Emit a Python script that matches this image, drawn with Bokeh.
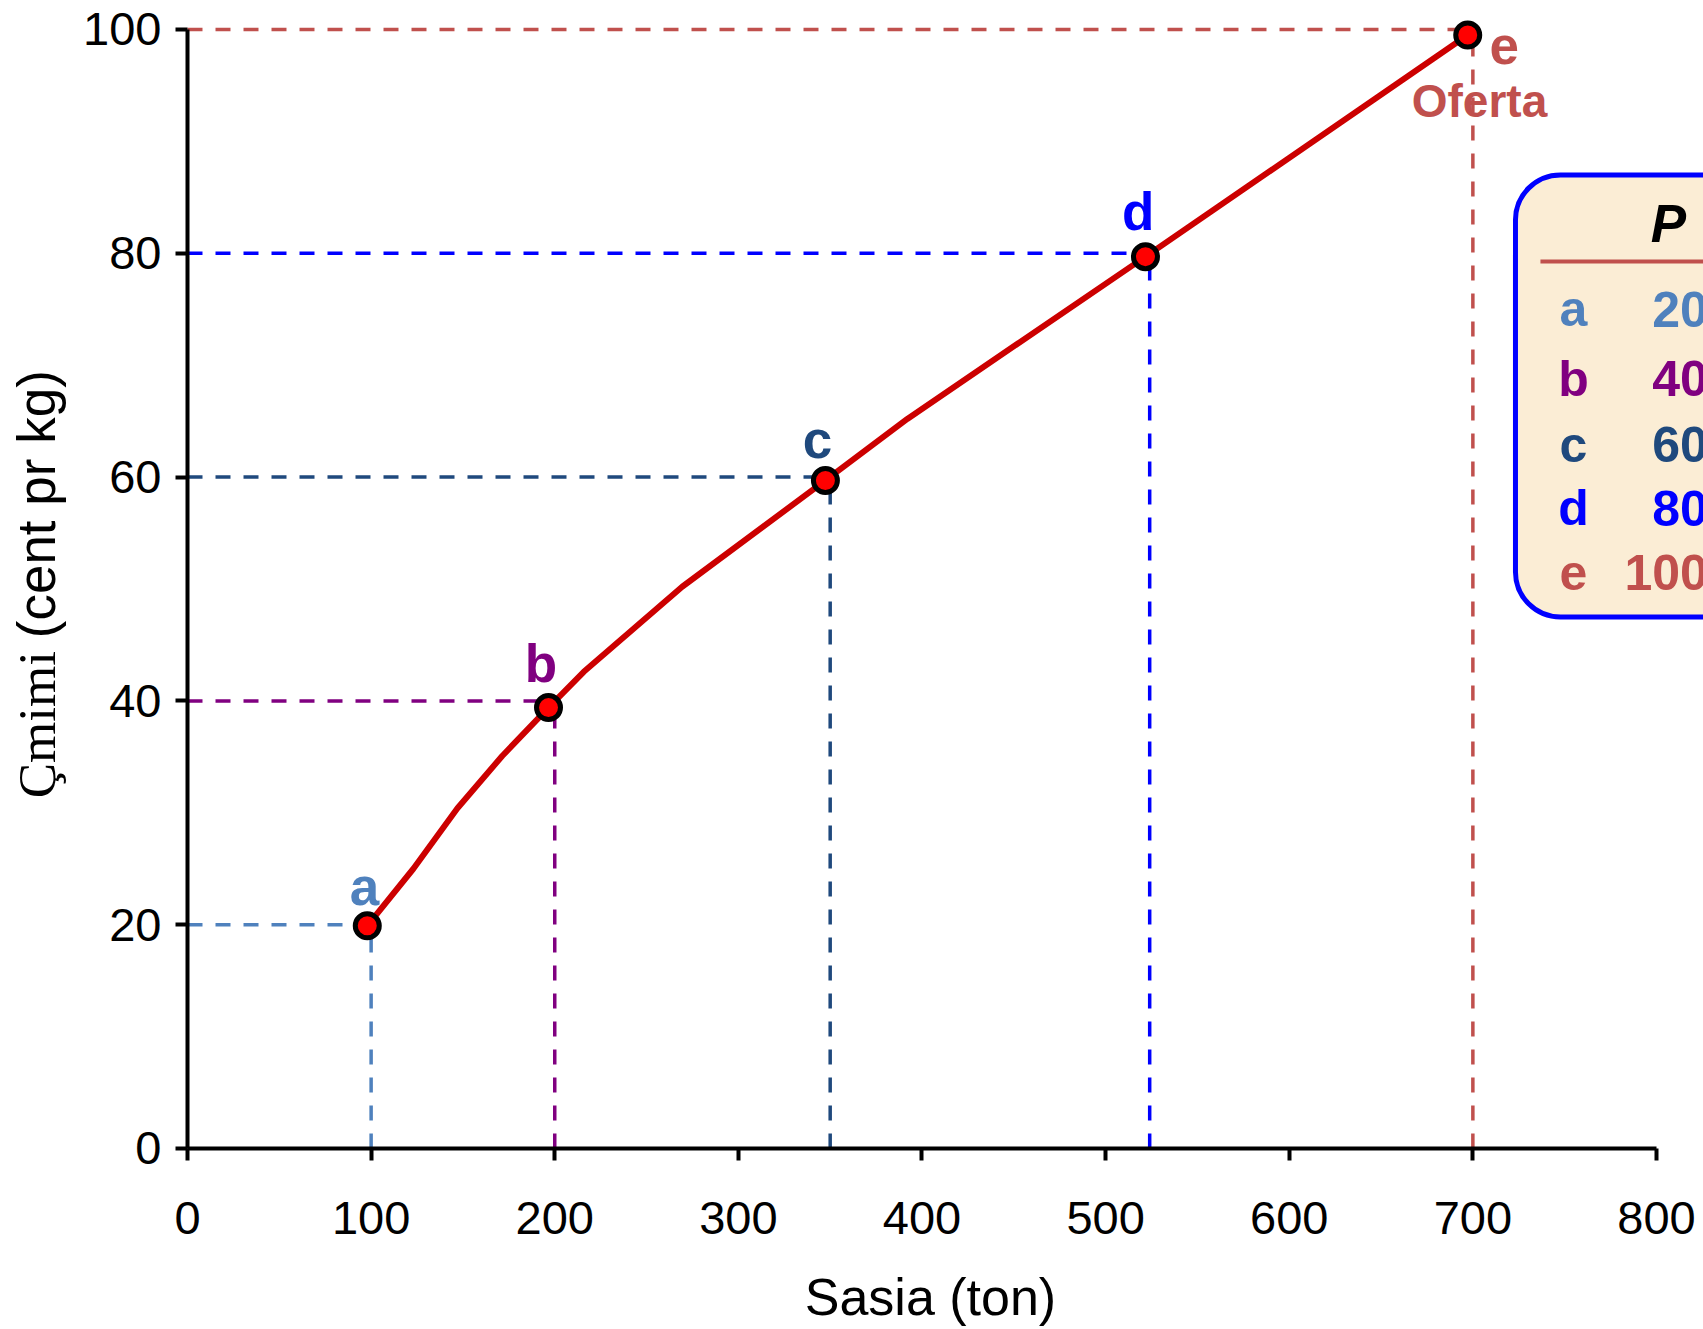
from bokeh.plotting import figure
from bokeh.models import Range1d, FixedTicker, BoxAnnotation, Label, ColumnDataSource
from bokeh.core.properties import value
from bokeh.embed import file_html
from bokeh.resources import INLINE

# ---------------- data ----------------
point_names = ["a", "b", "c", "d", "e"]
point_qty = [97.9, 196.6, 347.4, 521.7, 697.2]
point_price = [19.9, 39.4, 59.7, 79.7, 99.5]

curve_qty = [97.9, 123.0, 147.0, 171.5, 196.6, 215.8, 269.4, 347.4, 392.0, 521.7, 697.2]
curve_price = [19.9, 25.0, 30.4, 35.1, 39.4, 42.6, 50.2, 59.7, 65.2, 79.7, 99.5]

guide_qty = [100, 200, 350, 524, 700]
guide_price = [20, 40, 60, 80, 100]

point_colors = ["#4F81BD", "#800080", "#1F497D", "#0000FF", "#C0504D"]

table_header = "P"
table_values = ["20", "40", "60", "80", "100"]

x_ticks = [0, 100, 200, 300, 400, 500, 600, 700, 800]
y_ticks = [0, 20, 40, 60, 80, 100]

curve_name = "Oferta"
x_title = "Sasia (ton)"
y_title_serif = "Çmimi"
y_title_sans = "(cent pr kg)"

# ---------------- layout constants ----------------
label_qty = [96.4, 192.5, 343.1, 517.7, 717.1]
label_price = [23.4, 43.3, 63.4, 83.7, 98.55]
row_price = [75.0, 68.8, 62.9, 57.2, 51.5]

SANS = "Liberation Sans"

p = figure(width=1703, height=1329,
           x_range=Range1d(-101.84, 825.6), y_range=Range1d(-16.175, 102.59),
           output_backend="svg", toolbar_location=None,
           min_border_left=0, min_border_right=0,
           min_border_top=0, min_border_bottom=0)
p.outline_line_color = None
p.grid.visible = False
p.background_fill_color = "white"
p.border_fill_color = "white"

# axes (drawn at the data origin)
for ax in (p.xaxis[0], p.yaxis[0]):
    ax.fixed_location = 0
    ax.axis_line_width = 4
    ax.axis_line_color = "black"
    ax.major_tick_line_width = 4
    ax.major_tick_line_color = "black"
    ax.major_tick_out = 12
    ax.major_tick_in = 0
    ax.minor_tick_line_color = None
    ax.major_label_text_font = SANS
    ax.major_label_text_font_size = "47px"
    ax.major_label_text_color = "black"

p.xaxis.ticker = FixedTicker(ticks=x_ticks)
p.yaxis.ticker = FixedTicker(ticks=y_ticks)
p.xaxis.bounds = (0, 800)
p.yaxis.bounds = (0, 100)
p.xaxis.major_label_standoff = 42
p.yaxis.major_label_standoff = 14

# box behind the table
box = BoxAnnotation(left=723.2, right=880, top=87.0, bottom=47.5,
                    fill_color="#FBEDD5", fill_alpha=1.0,
                    line_color="#0000FF", line_alpha=1.0, line_width=5,
                    border_radius=45, level="underlay")
p.add_layout(box)

# guides
hsrc = ColumnDataSource(dict(x0=[0] * 5, y0=guide_price, x1=guide_qty, y1=guide_price, c=point_colors))
vsrc = ColumnDataSource(dict(x0=guide_qty, y0=[0] * 5, x1=guide_qty, y1=guide_price, c=point_colors))
p.segment(x0="x0", y0="y0", x1="x1", y1="y1", line_color="c", line_width=3.5, line_dash="15 13", source=hsrc)
p.segment(x0="x0", y0="y0", x1="x1", y1="y1", line_color="c", line_width=3.5, line_dash="15 13", source=vsrc)

# supply curve
p.line(curve_qty, curve_price, line_color="#CC0000", line_width=6)
p.scatter(point_qty, point_price, size=24, fill_color="#FF0000", line_color="black", line_width=5)

# point labels
lsrc = ColumnDataSource(dict(x=label_qty, y=label_price, t=point_names, c=point_colors))
p.text(x="x", y="y", text="t", text_color="c", source=lsrc,
       text_font=value(SANS), text_font_style="bold", text_font_size="53px",
       text_align="center", text_baseline="alphabetic")
p.text(x=[703.6], y=[93.6], text=[curve_name], text_color="#C0504D",
       text_font=value(SANS), text_font_style="bold", text_font_size="46px",
       text_align="center", text_baseline="alphabetic")

# table contents
p.text(x=[806.5], y=[82.7], text=[table_header], text_color="black",
       text_font=value(SANS), text_font_style="bold italic", text_font_size="53px",
       text_align="center", text_baseline="middle")
p.segment(x0=[736.8], y0=[79.27], x1=[880], y1=[79.27], line_color="#C0504D", line_width=4)
tsrc = ColumnDataSource(dict(xl=[754.8] * 5, xv=[828] * 5, y=row_price, t=point_names, v=table_values, c=point_colors))
p.text(x="xl", y="y", text="t", text_color="c", source=tsrc,
       text_font=value(SANS), text_font_style="bold", text_font_size="50px",
       text_align="center", text_baseline="middle")
p.text(x="xv", y="y", text="v", text_color="c", source=tsrc,
       text_font=value(SANS), text_font_style="bold", text_font_size="50px",
       text_align="right", text_baseline="middle")

# axis titles
p.add_layout(Label(x=404.6, y=-13.3, text=x_title, text_align="center", text_baseline="alphabetic",
                   text_font=SANS, text_font_size="52px", text_color="black"))
p.add_layout(Label(x=-82.0, y=31.3, text=y_title_serif, angle=90, angle_units="deg",
                   text_align="left", text_baseline="middle",
                   text_font="Liberation Serif", text_font_size="53px", text_color="black"))
p.add_layout(Label(x=-82.0, y=45.6, text=y_title_sans, angle=90, angle_units="deg",
                   text_align="left", text_baseline="middle",
                   text_font=SANS, text_font_size="53px", text_color="black"))

open("out.html", "w").write(file_html(p, INLINE))
